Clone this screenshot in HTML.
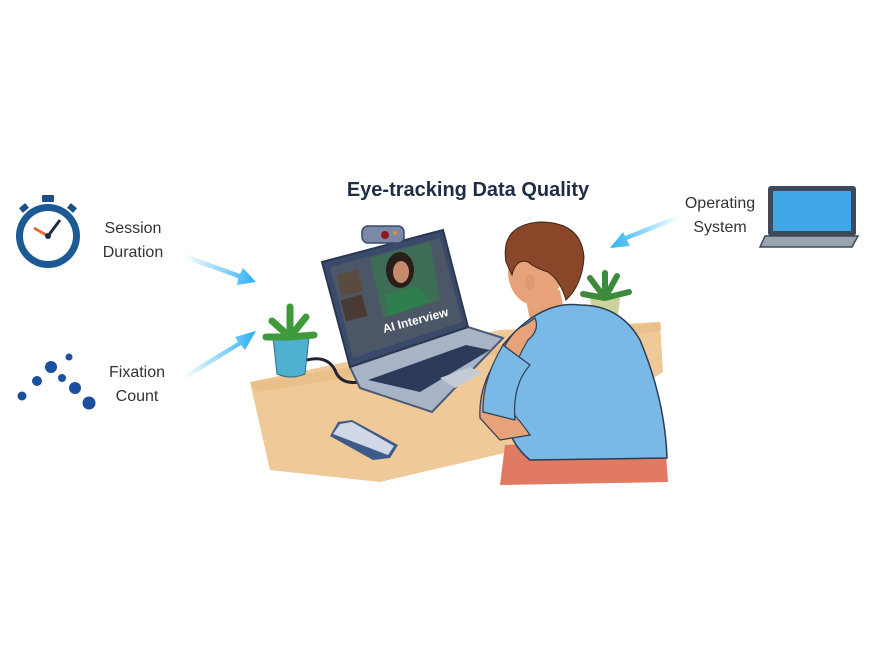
<!DOCTYPE html>
<html><head><meta charset="utf-8"><style>
html,body{margin:0;padding:0;background:#fff;}
svg{display:block;}
text{font-family:"Liberation Sans",sans-serif;}
</style></head><body>
<svg width="879" height="659" viewBox="0 0 879 659" xmlns="http://www.w3.org/2000/svg">
<defs>
<linearGradient id="ar1" x1="0" y1="0" x2="1" y2="0"><stop offset="0" stop-color="#2bb0f5" stop-opacity="0"/><stop offset="1" stop-color="#2bb0f5"/></linearGradient>
<linearGradient id="ar2" x1="1" y1="0" x2="0" y2="0"><stop offset="0" stop-color="#2bb0f5" stop-opacity="0"/><stop offset="1" stop-color="#2bb0f5"/></linearGradient>
</defs>
<text x="468" y="196" text-anchor="middle" font-size="20" font-weight="bold" fill="#1d2d44">Eye-tracking Data Quality</text>

<!-- stopwatch -->
<rect x="42" y="195" width="12" height="7" fill="#1b4f86" rx="1"/>
<circle cx="48" cy="236" r="32" fill="#1b5a94"/>
<circle cx="48" cy="236" r="25" fill="#fff"/>
<rect x="68" y="205" width="8" height="6" fill="#1b4f86" transform="rotate(40 72 208)"/>
<rect x="20" y="205" width="8" height="6" fill="#1b4f86" transform="rotate(-40 24 208)"/>
<line x1="48" y1="236" x2="60" y2="220" stroke="#1d2d44" stroke-width="3"/>
<line x1="48" y1="236" x2="34" y2="228" stroke="#e8683a" stroke-width="3"/>
<circle cx="48" cy="236" r="3" fill="#1d2d44"/>
<text x="133" y="233" text-anchor="middle" font-size="16" fill="#333">Session</text>
<text x="133" y="257" text-anchor="middle" font-size="16" fill="#333">Duration</text>
<polygon points="185,254 240,274 243,268 256,282 237,285 238,278 184,259" fill="url(#ar1)"/>

<!-- fixation dots -->
<circle cx="51" cy="367" r="6" fill="#1b4fa0"/>
<circle cx="69" cy="357" r="3.5" fill="#1b4fa0"/>
<circle cx="37" cy="381" r="5" fill="#1b4fa0"/>
<circle cx="62" cy="378" r="4" fill="#1b4fa0"/>
<circle cx="75" cy="388" r="6" fill="#1b4fa0"/>
<circle cx="22" cy="396" r="4.5" fill="#1b4fa0"/>
<circle cx="89" cy="403" r="6.5" fill="#1b4fa0"/>
<text x="137" y="377" text-anchor="middle" font-size="16" fill="#333">Fixation</text>
<text x="137" y="401" text-anchor="middle" font-size="16" fill="#333">Count</text>
<polygon points="183,375 238,342 235,337 256,331 245,350 241,345 186,379" fill="url(#ar1)"/>

<!-- operating system -->
<text x="720" y="208" text-anchor="middle" font-size="16" fill="#333">Operating</text>
<text x="720" y="232" text-anchor="middle" font-size="16" fill="#333">System</text>
<polygon points="680,219 627,240 630,246 610,248 623,232 625,236 678,215" fill="url(#ar2)"/>
<rect x="768" y="186" width="88" height="50" rx="3" fill="#3c4a5a"/>
<rect x="773" y="191" width="78" height="40" fill="#3fa7e8"/>
<polygon points="765,236 858,236 852,247 760,247" fill="#9aa4ae" stroke="#3c4a5a" stroke-width="1.5"/>

<!-- desk -->
<polygon points="250,382 500,330 660,322 663,372 560,440 380,482 270,470" fill="#efc998"/>
<polygon points="250,382 660,322 662,330 256,392" fill="#e6b77c" opacity=".5"/>
<!-- right plant -->
<path d="M590,298 h30 l-3,26 h-24z" fill="#c9d39b"/>
<path d="M605,298 l-15,-20 M605,298 l12,-22 M605,298 l-22,-4 M605,298 l24,-6 M605,298 v-25" stroke="#3d8a3a" stroke-width="6" stroke-linecap="round"/>
<!-- left plant -->
<path d="M273,337 h36 l-4,37 q-14,6 -28,0z" fill="#4fb0d0" stroke="#2b6f88"/>
<path d="M290,337 l-18,-16 M290,337 l16,-20 M290,337 l-24,0 M290,337 l24,-2 M290,337 v-30" stroke="#3f9a3c" stroke-width="7" stroke-linecap="round"/>
<path d="M307,360 q20,-5 28,10 q5,15 25,12" stroke="#223" stroke-width="3" fill="none"/>
<!-- phone -->
<polygon points="338,422 352,420 398,445 390,458 373,460 330,436" fill="#3c5a8a"/>
<polygon points="340,424 352,422 394,446 388,455 333,434" fill="#cfd8e4"/>
<!-- laptop -->
<polygon points="350,367 468,327 503,338 432,412 360,388" fill="#a8b4c6" stroke="#4b5a78" stroke-width="2"/>
<polygon points="368,380 466,345 490,350 420,392" fill="#2c3a5a"/>
<polygon points="440,378 470,367 482,373 455,388" fill="#c3cbd7"/>
<polygon points="322,262 443,230 468,327 350,367" fill="#3a4a6a" stroke="#2c3650" stroke-width="2"/>
<polygon points="330,267 440,238 462,322 353,358" fill="#4b5766"/>
<polygon points="370,258 430,242 440,300 383,318" fill="#3d6e55"/>
<ellipse cx="400" cy="270" rx="14" ry="18" fill="#2a1e1a"/>
<ellipse cx="401" cy="272" rx="8" ry="11" fill="#c68c6a"/>
<polygon points="385,295 418,286 430,302 388,316" fill="#2e7e4e"/>
<rect x="339" y="272" width="22" height="22" fill="#5a4a40" transform="rotate(-15 350 283)"/>
<rect x="343" y="297" width="22" height="22" fill="#4a3a34" transform="rotate(-15 354 308)"/>
<text x="384" y="333" font-size="12" font-weight="bold" fill="#fff" transform="rotate(-15 384 333)">AI Interview</text>
<rect x="362" y="226" width="42" height="17" rx="6" fill="#7a8aa6" stroke="#3a4a6a" stroke-width="1.5"/>
<circle cx="385" cy="235" r="4" fill="#8a1a1a"/>
<circle cx="395" cy="233" r="2" fill="#e88a3a"/>
<!-- person -->
<path d="M505,445 L665,440 L668,482 L500,485z" fill="#e07a62"/>
<path d="M525,295 L560,290 L565,315 L530,320z" fill="#e8a27a"/>
<path d="M503,345 Q540,300 580,305 Q620,305 640,340 Q665,400 667,458 L530,460 Q505,440 503,400z" fill="#7ab9e6" stroke="#2a3d55" stroke-width="1.5"/>
<path d="M480,418 Q478,385 500,355 Q512,330 525,325 L535,318 Q540,330 528,340 Q510,370 505,405 Q520,420 530,435 L500,440z" fill="#e8a27a" stroke="#2a3d55" stroke-width="1.2"/>
<path d="M503,345 Q482,380 483,412 L515,420 Q512,385 530,365z" fill="#7ab9e6" stroke="#2a3d55" stroke-width="1.2"/>
<ellipse cx="535" cy="272" rx="27" ry="33" fill="#e8a27a"/>
<path d="M506,262 Q500,225 540,222 Q582,222 584,258 Q582,285 566,300 Q560,280 548,272 Q535,268 528,262 Q516,258 512,275z" fill="#8a4628" stroke="#3a2418" stroke-width="1"/>
<ellipse cx="530" cy="282" rx="5" ry="8" fill="#e09870"/>
</svg>
</body></html>
